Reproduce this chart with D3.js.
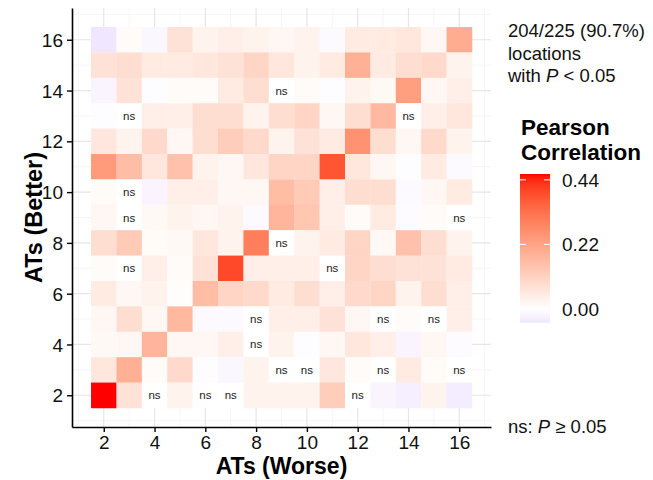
<!DOCTYPE html>
<html>
<head>
<meta charset="utf-8">
<script src="https://cdn.jsdelivr.net/npm/d3@7"></script>
<style>
  body { margin: 0; background: #fff; }
  svg { font-family: "Liberation Sans", Arial, Helvetica, sans-serif; }
</style>
</head>
<body>
<svg id="chart" width="653" height="480"></svg>
<script>
// ATs on both axes
const ats = [2, 3, 4, 5, 6, 7, 8, 9, 10, 11, 12, 13, 14, 15, 16];
const tickLabels = [2, 4, 6, 8, 10, 12, 14, 16];
const legendTicks = [0, 0.22, 0.44];

// Pearson correlation, rows from ATs (Better) = 16 down to 2, columns ATs (Worse) = 2..16
const rowsBetter = [16, 15, 14, 13, 12, 11, 10, 9, 8, 7, 6, 5, 4, 3, 2];
const corr = [
  [-0.047, 0.01, -0.015, 0.07, 0.03, 0.04, 0.03, 0.02, 0.03, -0.01, 0.05, 0.05, 0.06, 0.02, 0.20],
  [0.07, 0.08, 0.05, 0.05, 0.06, 0.07, 0.10, 0.06, 0.03, 0.05, 0.19, 0.05, 0.08, 0.09, 0.03],
  [-0.02, 0.07, -0.005, 0.01, 0.01, 0.05, 0.08, 0.0, 0.01, -0.005, 0.03, 0.015, 0.23, 0.02, 0.04],
  [-0.005, 0.0, 0.04, 0.04, 0.08, 0.08, 0.03, 0.08, 0.10, 0.02, 0.08, 0.17, 0.0, 0.04, 0.06],
  [0.06, 0.03, 0.09, 0.02, 0.08, 0.12, 0.09, 0.03, 0.07, 0.05, 0.26, 0.08, 0.02, 0.09, 0.03],
  [0.24, 0.16, 0.06, 0.15, 0.03, 0.02, 0.06, 0.10, 0.10, 0.38, 0.06, 0.02, -0.005, 0.05, -0.01],
  [0.01, 0.0, -0.02, 0.04, 0.04, 0.02, 0.02, 0.16, 0.13, 0.04, 0.08, 0.08, -0.01, 0.02, 0.05],
  [0.02, 0.0, 0.015, 0.03, 0.02, 0.03, -0.01, 0.18, 0.14, 0.04, 0.01, 0.05, -0.008, 0.01, 0.0],
  [0.08, 0.13, 0.01, 0.015, 0.06, 0.03, 0.30, 0.0, 0.03, 0.05, 0.10, 0.015, 0.15, 0.08, 0.03],
  [0.01, 0.0, 0.04, 0.01, 0.07, 0.40, 0.04, 0.04, 0.04, 0.0, 0.10, 0.08, 0.07, 0.07, 0.05],
  [0.05, 0.02, 0.03, 0.005, 0.16, 0.10, 0.09, 0.05, 0.08, 0.04, 0.09, 0.10, 0.03, 0.08, 0.04],
  [0.02, 0.08, 0.02, 0.17, -0.01, -0.01, 0.0, 0.04, 0.04, 0.07, 0.02, 0.0, 0.01, 0.0, 0.04],
  [0.015, 0.02, 0.18, 0.02, 0.02, 0.04, 0.0, 0.03, -0.005, 0.02, 0.06, 0.04, -0.02, 0.02, -0.008],
  [0.06, 0.19, 0.01, 0.09, -0.005, -0.015, 0.03, 0.0, 0.0, 0.06, 0.01, 0.0, 0.05, 0.01, 0.0],
  [0.46, 0.07, 0.0, 0.03, 0.0, 0.0, 0.03, 0.03, 0.03, 0.12, 0.0, -0.02, -0.03, 0.03, -0.035]
];

// not significant cells as [worse, better]
const nsCells = [
  [9, 14], [3, 13], [14, 13], [3, 10], [3, 9], [16, 9], [9, 8], [3, 7], [11, 7],
  [8, 5], [13, 5], [15, 5], [8, 4], [9, 3], [10, 3], [13, 3], [16, 3],
  [4, 2], [6, 2], [7, 2], [12, 2]
];

const annoLines = ['204/225 (90.7%)', 'locations'];

// flatten for d3
const cells = [];
rowsBetter.forEach((b, i) => {
  ats.forEach((w, j) => {
    cells.push({worse: w, better: b, r: corr[i][j]});
  });
});

const minR = d3.min(cells, d => d.r);
const maxR = d3.max(cells, d => d.r);

// diverging fill like gradient2: white at 0, stretched by the larger side
const toRed = d3.interpolateLab('#ffffff', '#ff0000');
const toBlue = d3.interpolateLab('#ffffff', '#0000ff');
const span = Math.max(maxR, -minR);
const fill = v => v >= 0 ? toRed(v / span) : toBlue(-v / span);

const svg = d3.select('#chart');

const panel = {left: 72, right: 491, top: 8, bottom: 427};

const x = d3.scaleLinear()
  .domain([0.75, 17.25])
  .range([panel.left, panel.right]);

const y = d3.scaleLinear()
  .domain([0.75, 17.25])
  .range([panel.bottom, panel.top]);

// grid
const grid = svg.append('g');
const minorVals = [1, 3, 5, 7, 9, 11, 13, 15, 17];
grid.selectAll('.vminor').data(minorVals).enter().append('line')
  .attr('x1', d => x(d)).attr('x2', d => x(d))
  .attr('y1', panel.top).attr('y2', panel.bottom)
  .attr('stroke', '#f0f0f0').attr('stroke-width', 0.7);
grid.selectAll('.hminor').data(minorVals).enter().append('line')
  .attr('y1', d => y(d)).attr('y2', d => y(d))
  .attr('x1', panel.left).attr('x2', panel.right)
  .attr('stroke', '#f0f0f0').attr('stroke-width', 0.7);
grid.selectAll('.vmajor').data(tickLabels).enter().append('line')
  .attr('x1', d => x(d)).attr('x2', d => x(d))
  .attr('y1', panel.top).attr('y2', panel.bottom)
  .attr('stroke', '#e6e6e6').attr('stroke-width', 1.2);
grid.selectAll('.hmajor').data(tickLabels).enter().append('line')
  .attr('y1', d => y(d)).attr('y2', d => y(d))
  .attr('x1', panel.left).attr('x2', panel.right)
  .attr('stroke', '#e6e6e6').attr('stroke-width', 1.2);

// tiles
svg.append('g')
  .selectAll('rect')
  .data(cells)
  .enter().append('rect')
  .attr('x', d => x(d.worse - 0.5))
  .attr('y', d => y(d.better + 0.5))
  .attr('width', d => x(d.worse + 0.5) - x(d.worse - 0.5) + 0.3)
  .attr('height', d => y(d.better - 0.5) - y(d.better + 0.5) + 0.3)
  .attr('fill', d => fill(d.r));

// ns labels
svg.append('g')
  .selectAll('text')
  .data(nsCells)
  .enter().append('text')
  .attr('x', d => x(d[0]))
  .attr('y', d => y(d[1]) + 4)
  .attr('text-anchor', 'middle')
  .attr('font-size', 11.5)
  .attr('fill', '#222')
  .text('ns');

// axes
const xAxis = d3.axisBottom(x).tickValues(tickLabels).tickSize(5).tickSizeOuter(0).tickPadding(4);
const yAxis = d3.axisLeft(y).tickValues(tickLabels).tickSize(5).tickSizeOuter(0).tickPadding(4);

const axisX = svg.append('g')
  .attr('transform', `translate(0, ${panel.bottom})`)
  .call(xAxis);
const axisY = svg.append('g')
  .attr('transform', `translate(${panel.left}, 0)`)
  .call(yAxis);

[axisX, axisY].forEach(a => {
  a.select('.domain').attr('stroke', '#000').attr('stroke-width', 1.6);
  a.selectAll('.tick line').attr('stroke', '#000').attr('stroke-width', 1.4);
  a.selectAll('.tick text')
    .attr('font-size', 19)
    .attr('fill', '#111')
    .attr('font-family', '"Liberation Sans", Arial, sans-serif');
});
axisY.selectAll('.tick text').attr('dy', '0.35em');

// axis titles
svg.append('text')
  .attr('x', (panel.left + panel.right) / 2)
  .attr('y', 474)
  .attr('text-anchor', 'middle')
  .attr('font-size', 23)
  .attr('font-weight', 'bold')
  .text('ATs (Worse)');

svg.append('text')
  .attr('transform', `translate(42, ${(panel.top + panel.bottom) / 2}) rotate(-90)`)
  .attr('text-anchor', 'middle')
  .attr('font-size', 23.5)
  .attr('font-weight', 'bold')
  .text('ATs (Better)');

// annotation at top right
const anno = svg.append('text')
  .attr('x', 508)
  .attr('y', 37)
  .attr('font-size', 18.5)
  .attr('fill', '#111');
annoLines.forEach((t, i) => {
  anno.append('tspan').attr('x', 508).attr('dy', i === 0 ? 0 : 22.5).text(t);
});
const pLine = anno.append('tspan').attr('x', 508).attr('dy', 22.5);
pLine.append('tspan').text('with ');
pLine.append('tspan').attr('font-style', 'italic').text('P');
pLine.append('tspan').text(' < 0.05');

// legend
const legend = svg.append('g');
legend.append('text')
  .attr('x', 521)
  .attr('y', 135)
  .attr('font-size', 22.5)
  .attr('font-weight', 'bold')
  .text('Pearson');
legend.append('text')
  .attr('x', 521)
  .attr('y', 160)
  .attr('font-size', 22.5)
  .attr('font-weight', 'bold')
  .text('Correlation');

const yl = d3.scaleLinear()
  .domain([minR, maxR])
  .range([322.7, 174]);

const grad = svg.append('defs').append('linearGradient')
  .attr('id', 'corrGrad')
  .attr('x1', 0).attr('y1', 1).attr('x2', 0).attr('y2', 0);
d3.range(0, 1.0001, 0.02).forEach(t => {
  const v = minR + t * (maxR - minR);
  grad.append('stop').attr('offset', t).attr('stop-color', fill(v));
});

const barX = 520, barW = 30;
legend.append('rect')
  .attr('x', barX)
  .attr('y', yl(maxR))
  .attr('width', barW)
  .attr('height', yl(minR) - yl(maxR))
  .attr('fill', 'url(#corrGrad)');

legend.selectAll('.ltickl').data(legendTicks).enter().append('line')
  .attr('x1', barX).attr('x2', barX + 6)
  .attr('y1', d => yl(d)).attr('y2', d => yl(d))
  .attr('stroke', '#fff').attr('stroke-width', 1);
legend.selectAll('.ltickr').data(legendTicks).enter().append('line')
  .attr('x1', barX + barW - 6).attr('x2', barX + barW)
  .attr('y1', d => yl(d)).attr('y2', d => yl(d))
  .attr('stroke', '#fff').attr('stroke-width', 1);

legend.selectAll('.llab').data(legendTicks).enter().append('text')
  .attr('x', 562)
  .attr('y', d => yl(d))
  .attr('dy', '0.35em')
  .attr('font-size', 19)
  .attr('fill', '#111')
  .text(d => d3.format('.2f')(d));

// ns note
const note = svg.append('text')
  .attr('x', 508)
  .attr('y', 433)
  .attr('font-size', 18.5)
  .attr('fill', '#111');
note.append('tspan').text('ns: ');
note.append('tspan').attr('font-style', 'italic').text('P');
note.append('tspan').text(' \u2265 0.05');
</script>
</body>
</html>
